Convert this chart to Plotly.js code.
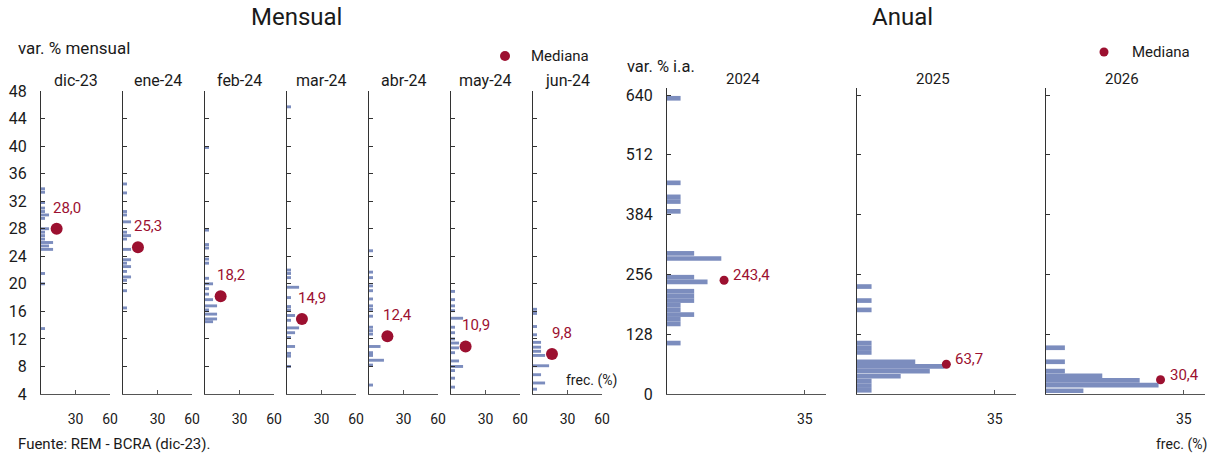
<!DOCTYPE html>
<html>
<head>
<meta charset="utf-8">
<script src="https://cdn.plot.ly/plotly-3.0.1.min.js"></script>
<style>html,body{margin:0;padding:0;background:#fff;}#chart{width:1215px;height:460px;}</style>
</head>
<body>
<div id="chart"></div>
<script>
// ---------- DATA ----------
const monthLabels = ['dic-23','ene-24','feb-24','mar-24','abr-24','may-24','jun-24'];
const monthlyMedian = [28.0, 25.3, 18.2, 14.9, 12.4, 10.9, 9.8];
const monthlyMedianX = [13.6, 13.0, 13.6, 13.0, 16.0, 12.7, 16.5];

const dic23Val  = [33.8,33.3,31.8,31.0,30.5,30.0,29.5,28.0,27.5,27.0,26.5,26.0,25.5,25.0,21.5,20.0,13.5];
const dic23Freq = [3.5,3.5,3.5,3.5,3.5,7,3.5,7,3.5,3.5,3.5,10.5,7,10.5,3.5,3.5,3.5];
const ene24Val  = [34.5,33.2,30.5,30.0,29.0,27.5,27.0,26.5,25.0,23.5,23.0,22.5,21.8,21.0,20.5,19.0,16.5];
const ene24Freq = [3.5,3.5,3.5,3.5,7,3.5,7,3.5,7,7,3.5,7,3.5,7,3.5,3.5,3.5];
const feb24Val  = [39.8,27.8,25.7,25.2,23.6,23.0,20.8,20.0,19.3,18.5,17.7,16.8,16.2,15.6,14.9,14.5];
const feb24Freq = [3.5,3.5,3.5,3.5,3.5,3.5,3.5,7,3.5,3.5,7,10.5,3.5,10.5,10.5,7];
const mar24Val  = [45.7,22.0,21.5,20.9,19.5,18.0,16.7,16.2,15.4,14.7,13.6,12.9,12.2,10.9,9.9,9.5,8.0];
const mar24Freq = [3.5,3.5,3.5,3.5,10.5,3.5,3.5,3.5,7,3.5,10.5,7,3.5,7,3.5,3.5,3.5];
const abr24Val  = [24.8,21.7,20.9,19.7,19.0,17.8,16.8,16.3,15.3,13.7,13.2,12.7,10.9,10.0,9.6,8.9,8.2,5.3];
const abr24Freq = [3.5,3.5,3.5,3.5,3.5,3.5,3.5,3.5,3.5,3.5,3.5,3.5,10,3.5,3.5,13,3.5,3.5];
const may24Val  = [18.9,17.7,16.8,16.1,15.0,13.7,12.9,12.0,11.4,10.7,10.0,8.8,8.0,7.4,6.3,5.0];
const may24Freq = [3.5,3.5,3.5,3.5,10.5,3.5,3.5,3.5,7,7,3.5,7,10.5,3.5,3.5,3.5];
const jun24Val  = [16.3,15.7,13.8,12.6,11.5,10.8,10.2,9.6,8.1,6.8,5.6,4.7];
const jun24Freq = [3.5,3.5,3.5,3.5,7,7,7,10.5,14,7,10.5,3.5];

const yearLabels = ['2024','2025','2026'];
const annualMedian = [243.4, 63.7, 30.4];
const annualMedianX = [14.5, 22.7, 29.1];
const a2024Val  = [633,452,422,412,391,301,290,250,240,220,210,200,190,180,170,160,150,109];
const a2024Freq = [3.45,3.45,3.45,3.45,3.45,6.9,13.8,6.9,10.3,6.9,6.9,6.9,3.45,3.45,6.9,3.45,3.45,3.45];
const a2025Val  = [230,200,180,109,99,89,69,59,49,38,28,18,8];
const a2025Freq = [3.7,3.7,3.7,3.7,3.7,3.7,14.8,22.2,18.5,11.1,3.7,3.7,3.7];
const a2026Val  = [99,69,49,39,29,19,7];
const a2026Freq = [4.8,4.8,4.8,14.3,23.8,28.6,9.5];

const monthlyTicks = [4,8,12,16,20,24,28,32,36,40,44,48];
const annualTicks = [0,128,256,384,512,640];

// ---------- STYLE ----------
const W = 1215, H = 460;
const barColor = 'rgb(124,141,190)';
const medColor = 'rgb(156,16,48)';
const txtColor = '#1a1a1a';
const FONT = 'Roboto, "Open Sans", sans-serif';
const px = x => x / W;
const py = y => 1 - y / H;

const monthlySeries = [
  [dic23Val, dic23Freq],[ene24Val, ene24Freq],[feb24Val, feb24Freq],[mar24Val, mar24Freq],
  [abr24Val, abr24Freq],[may24Val, may24Freq],[jun24Val, jun24Freq]
];
const annualSeries = [[a2024Val,a2024Freq],[a2025Val,a2025Freq],[a2026Val,a2026Freq]];

const traces = [];
const layout = {
  width: W, height: H,
  margin: {l:0, r:0, t:0, b:0},
  paper_bgcolor: '#fff', plot_bgcolor: 'rgba(0,0,0,0)',
  showlegend: false, hovermode: false,
  font: {family: FONT, color: txtColor, size: 14},
  annotations: [], shapes: []
};
const fmt = v => v.toFixed(1).replace('.', ',');
function axName(k){ return k === 1 ? '' : String(k); }

// monthly panels
monthlySeries.forEach((s, i) => {
  const k = i + 1;
  const x0 = Math.round(41 + 82.05 * i), x1 = x0 + 69;
  const xa = 'xaxis' + axName(k), ya = 'yaxis' + axName(k);
  const xr = 'x' + axName(k), yr = 'y' + axName(k);
  layout[xa] = {
    domain: [px(x0), px(x1)], range: [0, 60], anchor: yr,
    showline: true, linecolor: '#555', linewidth: 1,
    showgrid: false, zeroline: false,
    ticks: 'inside', ticklen: 4, tickcolor: '#555',
    tickvals: [30, 60], ticktext: ['30','60'],
    ticklabelstandoff: 12,
    tickfont: {size: 14, color: txtColor}, fixedrange: true
  };
  layout[ya] = {
    domain: [py(394), py(91)], range: [4, 48], anchor: xr,
    showline: true, linecolor: '#333', linewidth: 1,
    showgrid: false, zeroline: false,
    ticks: 'inside', ticklen: 4, tickcolor: '#333',
    tickvals: monthlyTicks, showticklabels: i === 0,
    ticklabelstandoff: 10,
    tickfont: {size: 16, color: txtColor}, fixedrange: true
  };
  traces.push({
    type: 'bar', orientation: 'h', x: s[1], y: s[0], width: 0.42,
    marker: {color: barColor}, xaxis: xr, yaxis: yr
  });
  traces.push({
    type: 'scatter', mode: 'markers', x: [monthlyMedianX[i]], y: [monthlyMedian[i]],
    marker: {color: medColor, size: 12}, xaxis: xr, yaxis: yr, cliponaxis: false
  });
  layout.annotations.push({
    xref: xr, yref: yr, x: monthlyMedianX[i], y: monthlyMedian[i],
    text: fmt(monthlyMedian[i]), showarrow: false, xanchor: 'center', yanchor: 'middle',
    xshift: 10, yshift: 21, font: {size: 15, color: medColor}
  });
  layout.annotations.push({
    xref: 'paper', yref: 'paper', x: px((x0 + x1) / 2), y: py(80),
    text: monthLabels[i], showarrow: false, xanchor: 'center', yanchor: 'middle',
    font: {size: 16, color: txtColor}
  });
});

// annual panels
annualSeries.forEach((s, j) => {
  const k = 8 + j;
  const x0 = Math.round(667.3 + 189.2 * j), x1 = x0 + 159;
  const xa = 'xaxis' + k, ya = 'yaxis' + k, xr = 'x' + k, yr = 'y' + k;
  layout[xa] = {
    domain: [px(x0), px(x1)], range: [0, 40.4], anchor: yr,
    showline: true, linecolor: '#555', linewidth: 1,
    showgrid: false, zeroline: false,
    ticks: 'inside', ticklen: 4, tickcolor: '#555',
    tickvals: [35], ticktext: ['35'],
    ticklabelstandoff: 12,
    tickfont: {size: 14, color: txtColor}, fixedrange: true
  };
  layout[ya] = {
    domain: [py(394), py(88)], range: [0, 655], anchor: xr,
    showline: true, linecolor: '#333', linewidth: 1,
    showgrid: false, zeroline: false,
    ticks: 'inside', ticklen: 4, tickcolor: '#333',
    tickvals: annualTicks, showticklabels: j === 0,
    ticklabelstandoff: 10,
    tickfont: {size: 16, color: txtColor}, fixedrange: true
  };
  traces.push({
    type: 'bar', orientation: 'h', x: s[1], y: s[0], width: 10,
    marker: {color: barColor, line: {width: 0}},
    xaxis: xr, yaxis: yr
  });
  traces.push({
    type: 'scatter', mode: 'markers', x: [annualMedianX[j]], y: [annualMedian[j]],
    marker: {color: medColor, size: 9}, xaxis: xr, yaxis: yr, cliponaxis: false
  });
  layout.annotations.push({
    xref: xr, yref: yr, x: annualMedianX[j], y: annualMedian[j],
    text: fmt(annualMedian[j]), showarrow: false, xanchor: 'left', yanchor: 'middle',
    xshift: 7, yshift: 5, font: {size: 15, color: medColor}
  });
  layout.annotations.push({
    xref: 'paper', yref: 'paper', x: px(x0 + 76), y: py(79),
    text: yearLabels[j], showarrow: false, xanchor: 'center', yanchor: 'middle',
    font: {size: 15, color: txtColor}
  });
});

// static texts
const txt = (x, y, t, size, anchor) => layout.annotations.push({
  xref: 'paper', yref: 'paper', x: px(x), y: py(y), text: t, showarrow: false,
  xanchor: anchor || 'left', yanchor: 'middle', font: {size: size, color: txtColor}
});
txt(296, 17, 'Mensual', 24, 'center');
txt(902, 17, 'Anual', 24, 'center');
txt(16, 48, 'var. % mensual', 17);
txt(625, 67, 'var. % i.a.', 16.5);
txt(529, 56, 'Mediana', 15);
txt(1130, 52, 'Mediana', 15);
txt(564, 380, 'frec. (%)', 14);
txt(1154, 444, 'frec. (%)', 14);
txt(16, 444, 'Fuente: REM - BCRA (dic-23).', 15);

// legend dots
const dot = (cx, cy, r) => layout.shapes.push({
  type: 'circle', xref: 'paper', yref: 'paper',
  x0: px(cx - r), x1: px(cx + r), y0: py(cy + r), y1: py(cy - r),
  fillcolor: medColor, line: {width: 0}
});
dot(505, 56, 5);
dot(1104, 52, 4.5);

Plotly.newPlot('chart', traces, layout, {displayModeBar: false, staticPlot: true});
</script>
</body>
</html>
